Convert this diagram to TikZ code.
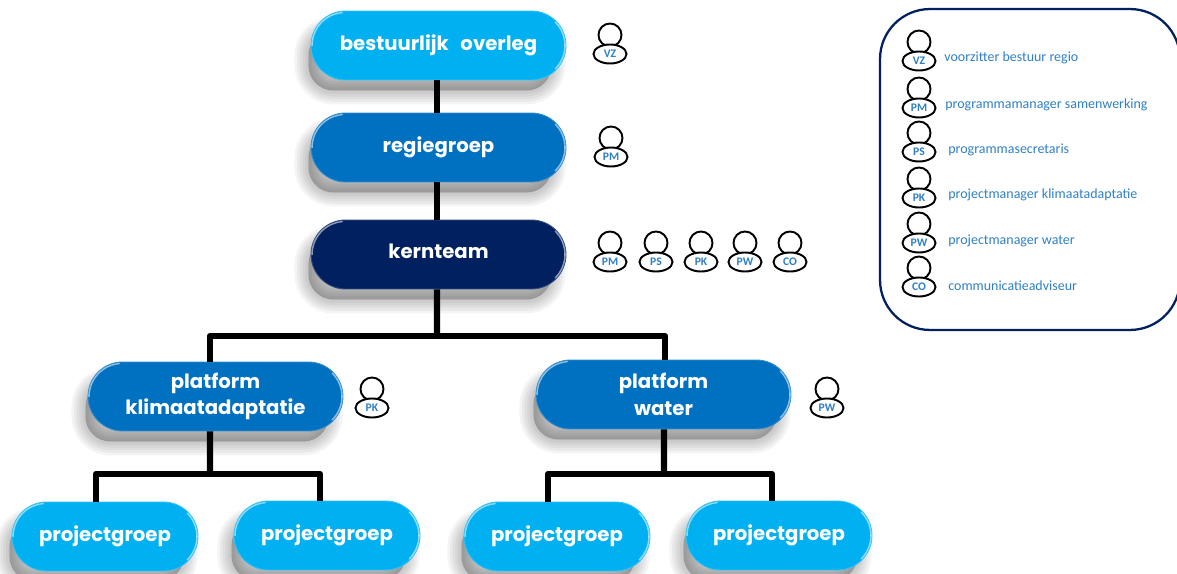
\documentclass[tikz,border=0pt]{standalone}
\usepackage{fontspec}
\setmainfont{Poppins}
\newfontfamily\legendfont{Carlito}
\usetikzlibrary{positioning,shapes.geometric,shapes.misc,backgrounds}
\definecolor{lightpill}{HTML}{00B0F0}
\definecolor{midpill}{HTML}{0070C0}
\definecolor{darkpill}{HTML}{002060}
\definecolor{labelblue}{HTML}{2E7FC6}
\tikzset{
  pill/.style={draw=#1!80!white,line width=0.5pt,fill=#1,text=white,rounded rectangle,
    minimum width=5.1cm,minimum height=1.38cm,align=center,inner sep=0pt,
    font=\bfseries\fontsize{11.2}{15}\selectfont},
  smallpill/.style={pill=#1,minimum width=3.72cm},
  rim/.style={white,opacity=0.55,line width=0.8pt,line cap=round},
  softshadow/.style={draw=black,fill=black,opacity=0.045,line width=#1,line join=round},
  conn/.style={black,line width=3.6pt,line join=round},
  head/.style={draw=black,fill=white,circle,line width=1.1pt,minimum size=0.46cm,inner sep=0pt},
  body/.style={draw=black,fill=white,ellipse,line width=1.1pt,minimum width=0.66cm,minimum height=0.38cm,inner sep=0pt,
    text=labelblue,font=\legendfont\bfseries\fontsize{6.6}{7}\selectfont},
  legendtext/.style={text=labelblue,anchor=west,inner sep=0pt,font=\legendfont\fontsize{7.95}{9}\selectfont}
}
\newcommand{\person}[4]{
\node [head] (#1h) at (#2,#3-19) {};
\node [body] (#1b) at (#2,#3) {#4};
}
\begin{document}
\begin{tikzpicture}[x=0.02cm,y=-0.02cm]
\useasboundingbox (0,0) rectangle (1177,574);
\node [pill=lightpill] (overleg) at (438.5,45.5) {bestuurlijk\hspace{0.15cm} overleg};
\node [pill=midpill] (regie) at (438.5,147.5) {regiegroep};
\node [pill=darkpill,text depth=0.12cm] (kern) at (438.5,254.5) {kernteam};
\node [pill=midpill] (klimaat) at (215.5,396.5) {platform\\klimaatadaptatie};
\node [pill=midpill] (water) at (663.5,394.5) {platform\\water};
\node [smallpill=lightpill] (projecta) at (105,536.5) {projectgroep};
\node [smallpill=lightpill] (projectb) at (327,535.5) {projectgroep};
\node [smallpill=lightpill] (projectc) at (557,536.5) {projectgroep};
\node [smallpill=lightpill] (projectd) at (779,535.5) {projectgroep};
\begin{pgfonlayer}{background}
\foreach \n in {overleg,regie,kern,klimaat,water,projecta,projectb,projectc,projectd} {
\foreach \w in {16,13,10,7,4,1} {
\draw [softshadow=\w pt,rounded corners=0.5cm] ([xshift=-0.74cm,yshift=-0.4cm]\n.north west) -- ([xshift=0.4cm,yshift=-0.4cm]\n.north east) -- ([xshift=0.4cm,yshift=-0.2cm]\n.south east) -- ([xshift=-0.74cm,yshift=-0.2cm]\n.south west) -- cycle;
}
}
\end{pgfonlayer}
\foreach \n in {overleg,regie,kern,klimaat,water,projecta,projectb,projectc,projectd} {
\draw [rim] ([xshift=0.03cm]\n.west) arc (180:95:0.66cm);
\draw [rim] ([xshift=-0.03cm]\n.east) arc (0:45:0.66cm);
\draw [rim] ([xshift=-0.03cm]\n.east) arc (0:-45:0.66cm);
}
\coordinate (kernbar) at (437,336);
\coordinate (klimbar) at (210,474);
\coordinate (waterbar) at (664,474);
\draw [conn] ([xshift=-0.03cm]overleg.south) -- ([xshift=-0.03cm]regie.north);
\draw [conn] ([xshift=-0.03cm]regie.south) -- ([xshift=-0.03cm]kern.north);
\draw [conn] ([xshift=-0.03cm]kern.south) -- (kernbar);
\draw [conn] ([xshift=-0.11cm]klimaat.north) |- (kernbar) -| ([xshift=0.03cm]water.north);
\draw [conn] ([xshift=-0.11cm]klimaat.south) -- (klimbar);
\draw [conn] ([xshift=-0.18cm]projecta.north) |- (klimbar) -| ([xshift=-0.14cm]projectb.north);
\draw [conn] ([xshift=0.01cm]water.south) -- (waterbar);
\draw [conn] ([xshift=-0.18cm]projectc.north) |- (waterbar) -| ([xshift=-0.14cm]projectd.north);
\person{vz}{610}{54}{VZ}
\person{pm}{611}{157}{PM}
\person{kpm}{610}{262}{PM}
\person{kps}{656}{262}{PS}
\person{kpk}{701}{262}{PK}
\person{kpw}{745}{262}{PW}
\person{kco}{790}{262}{CO}
\person{ppk}{372}{408}{PK}
\person{ppw}{827}{408}{PW}
\node [draw=darkpill,line width=1.3pt,rounded corners=1cm,minimum width=6cm,minimum height=6.42cm,inner sep=0pt] (legend) at (1030,169.5) {};
\person{lvz}{919}{61}{VZ}
\person{lpm}{919}{108}{PM}
\person{lps}{919}{152}{PS}
\person{lpk}{919}{198}{PK}
\person{lpw}{919}{243}{PW}
\person{lco}{919}{287}{CO}
\node [legendtext] (tvz) at (944,58) {voorzitter bestuur regio};
\node [legendtext] (tpm) at (945,105) {programmamanager samenwerking};
\node [legendtext] (tps) at (948,150) {programmasecretaris};
\node [legendtext] (tpk) at (948,195) {projectmanager klimaatadaptatie};
\node [legendtext] (tpw) at (948,241) {projectmanager water};
\node [legendtext] (tco) at (948,286) {communicatieadviseur};
\end{tikzpicture}
\end{document}
